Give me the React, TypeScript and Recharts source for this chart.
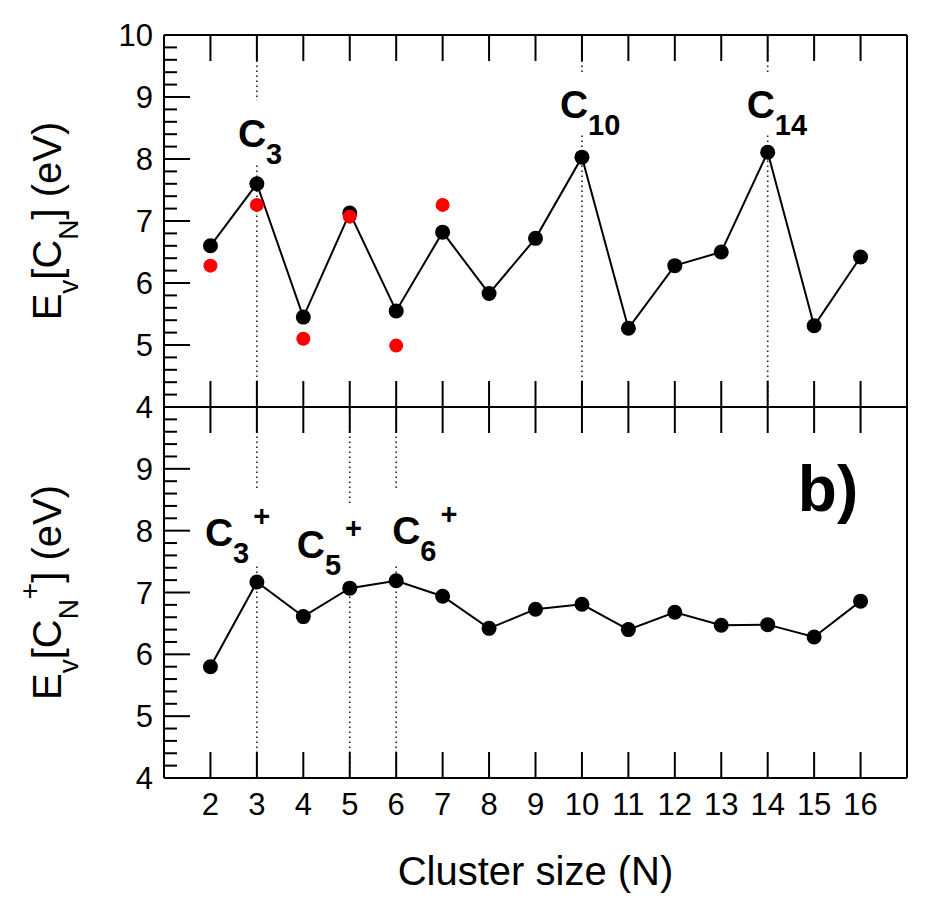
import React from "react";
import { LineChart, Line, XAxis, YAxis, ReferenceLine, ReferenceDot } from "recharts";

const FONT = '"Liberation Sans", Arial, Helvetica, sans-serif';

// cluster size N
const clusterSizes = [2, 3, 4, 5, 6, 7, 8, 9, 10, 11, 12, 13, 14, 15, 16];
// E_v of neutral C_N (black curve)
const neutralEv = [6.6, 7.6, 5.45, 7.13, 5.55, 6.82, 5.83, 6.72, 8.03, 5.27, 6.28, 6.5, 8.11, 5.31, 6.42];
// second set for the small neutral clusters (red points)
const neutralAltSizes = [2, 3, 4, 5, 6, 7];
const neutralAltEv = [6.28, 7.26, 5.1, 7.07, 4.99, 7.26];
// E_v of cations C_N+
const cationEv = [5.8, 7.17, 6.61, 7.07, 7.19, 6.94, 6.42, 6.73, 6.81, 6.4, 6.68, 6.47, 6.48, 6.28, 6.86];

const xTicks = [2, 3, 4, 5, 6, 7, 8, 9, 10, 11, 12, 13, 14, 15, 16];
const yMajorTicks = [4, 5, 6, 7, 8, 9, 10];
// minor ticks every 0.2 eV
const yTicks = yMajorTicks.flatMap((v, i) =>
  i === yMajorTicks.length - 1 ? [v] : [0, 1, 2, 3, 4].map((k) => Math.round((v + k * 0.2) * 10) / 10)
);

// highlighted sizes and their subscripts
const neutralPeaks = [3, 10, 14];
const neutralPeakSubs = ["3", "10", "14"];
const cationPeaks = [3, 5, 6];
const cationPeakSubs = ["3", "5", "6"];

// where each tag sits: baseline in eV, horizontal shift in px
const neutralTagPos = [
  { y: 8.2, dx: -19 },
  { y: 8.66, dx: -22 },
  { y: 8.66, dx: -21 },
];
const cationTagPos = [
  { y: 7.76, dx: -52 },
  { y: 7.55, dx: -53 },
  { y: 7.79, dx: -4 },
];

const neutralRows = clusterSizes.map((n, i) => {
  const j = neutralAltSizes.indexOf(n);
  return { n, ev: neutralEv[i], alt: j >= 0 ? neutralAltEv[j] : null };
});
const cationRows = clusterSizes.map((n, i) => ({ n, ev: cationEv[i] }));

const W = 947;
const H = 921;
const AXIS = { stroke: "#000", strokeWidth: 2 };

const isMajor = (v: number) => Math.abs(v - Math.round(v)) < 1e-6;

function leftTick(maxLabel: number) {
  return (props: any) => {
    const { x, y, payload } = props;
    const v = payload.value;
    const ax = x + 11;
    return (
      <g>
        <line x1={ax} y1={y} x2={ax + (isMajor(v) ? 26 : 13)} y2={y} stroke="#000" strokeWidth={2} />
        {isMajor(v) && v <= maxLabel && (
          <text x={x} y={y} dy="0.36em" textAnchor="end" fontSize={31} fontFamily={FONT} fill="#000">
            {v}
          </text>
        )}
      </g>
    );
  };
}

const rightTick = (props: any) => {
  const { x, y, payload } = props;
  return (
    <line x1={x} y1={y} x2={x - (isMajor(payload.value) ? 26 : 13)} y2={y} stroke="#000" strokeWidth={2} />
  );
};

function bottomTick(withLabels: boolean) {
  return (props: any) => {
    const { x, y, payload } = props;
    return (
      <g>
        <line x1={x} y1={y} x2={x} y2={y - 26} stroke="#000" strokeWidth={2} />
        {withLabels && (
          <text x={x} y={y + 37} textAnchor="middle" fontSize={31} fontFamily={FONT} fill="#000">
            {payload.value}
          </text>
        )}
      </g>
    );
  };
}

const topTick = (props: any) => {
  const { x, y } = props;
  return <line x1={x} y1={y} x2={x} y2={y + 26} stroke="#000" strokeWidth={2} />;
};

function YTitle(props: any) {
  const vb = props.viewBox || { x: 164, y: 0, width: 1, height: 0 };
  const x = vb.x + vb.width - 103;
  const cy = vb.y + vb.height / 2;
  return (
    <text
      x={x}
      y={cy}
      transform={`rotate(-90 ${x} ${cy})`}
      textAnchor="middle"
      fontSize={40}
      fontFamily={FONT}
      fill="#000"
    >
      E<tspan fontSize={28} dy={17}>v</tspan>
      <tspan dy={-17}>[C</tspan>
      <tspan fontSize={28} dy={17}>N</tspan>
      {props.plus ? (
        <>
          <tspan fontSize={28} dy={-39}>+</tspan>
          <tspan dy={22}>] (eV)</tspan>
        </>
      ) : (
        <tspan dy={-17}>] (eV)</tspan>
      )}
    </text>
  );
}

function XTitle(props: any) {
  const vb = props.viewBox || { x: 164, y: 778, width: 743 };
  return (
    <text x={vb.x + vb.width / 2} y={vb.y + 107} textAnchor="middle" fontSize={40} fontFamily={FONT} fill="#000">
      Cluster size (N)
    </text>
  );
}

function PeakTag(props: any) {
  const vb = props.viewBox || { x: 0, y: 0 };
  const { sub, plus, dx } = props;
  const x0 = vb.x + dx;
  const cy = vb.y;
  const w = 28 + sub.length * 16 + (plus ? 22 : 0) + 6;
  const top = cy - (plus ? 55 : 46);
  const bottom = cy + (plus ? 20 : 16);
  return (
    <g>
      <rect x={x0 - 3} y={top} width={w} height={bottom - top} fill="#fff" />
      <text x={x0} y={cy} fontFamily={FONT} fontWeight="bold" fontSize={39} fill="#000">
        C
        <tspan fontSize={29} dy={17}>{sub}</tspan>
        {plus && (
          <tspan fontSize={29} dx={4} dy={-37}>
            +
          </tspan>
        )}
      </text>
    </g>
  );
}

function PanelLabel(props: any) {
  const vb = props.viewBox || { x: 0, y: 0 };
  return (
    <text x={vb.x} y={vb.y} textAnchor="end" fontFamily={FONT} fontWeight="bold" fontSize={64} fill="#000">
      b)
    </text>
  );
}

// four axes framing one panel; ticks point inwards
function frame(showXLabels: boolean, maxYLabel: number, cation: boolean) {
  return [
    <XAxis
      key="xb"
      xAxisId="b"
      dataKey="n"
      type="number"
      domain={[1, 17]}
      ticks={xTicks}
      interval={0}
      height={1}
      tickSize={0}
      tickMargin={0}
      tickLine={false}
      axisLine={AXIS}
      tick={bottomTick(showXLabels)}
      label={showXLabels ? (p: any) => <XTitle {...p} /> : undefined}
    />,
    <XAxis
      key="xt"
      xAxisId="t"
      orientation="top"
      dataKey="n"
      type="number"
      domain={[1, 17]}
      ticks={xTicks}
      interval={0}
      height={1}
      tickSize={0}
      tickMargin={0}
      tickLine={false}
      axisLine={AXIS}
      tick={topTick}
    />,
    <YAxis
      key="yl"
      yAxisId="l"
      type="number"
      domain={[4, 10]}
      ticks={yTicks}
      interval={0}
      width={1}
      tickSize={0}
      tickMargin={11}
      tickLine={false}
      axisLine={AXIS}
      tick={leftTick(maxYLabel)}
      label={(p: any) => <YTitle {...p} plus={cation} />}
    />,
    <YAxis
      key="yr"
      yAxisId="r"
      orientation="right"
      type="number"
      domain={[4, 10]}
      ticks={yTicks}
      interval={0}
      width={1}
      tickSize={0}
      tickMargin={0}
      tickLine={false}
      axisLine={AXIS}
      tick={rightTick}
    />,
  ];
}

export default function App() {
  return (
    <div style={{ position: "absolute", left: 0, top: 0, width: W, height: H, background: "#fff" }}>
      <div style={{ position: "absolute", left: 0, top: 0 }}>
        <LineChart width={W} height={H} data={neutralRows} margin={{ top: 34, right: 39, bottom: 513, left: 163 }}>
          {frame(false, 10, false)}
          {neutralPeaks.map((n) => (
            <ReferenceLine
              key={`l${n}`}
              xAxisId="b"
              yAxisId="l"
              x={n}
              stroke="#222"
              strokeWidth={1.6}
              strokeDasharray="1.6 3.4"
            />
          ))}
          <Line
            xAxisId="b"
            yAxisId="l"
            dataKey="ev"
            type="linear"
            stroke="#000"
            strokeWidth={2}
            dot={{ r: 7.5, fill: "#000", stroke: "none" }}
            activeDot={false}
            isAnimationActive={false}
          />
          <Line
            xAxisId="b"
            yAxisId="l"
            dataKey="alt"
            type="linear"
            stroke="none"
            dot={{ r: 7, fill: "#f00", stroke: "none" }}
            activeDot={false}
            isAnimationActive={false}
          />
          {neutralPeaks.map((n, i) => (
            <ReferenceDot
              key={`t${n}`}
              xAxisId="b"
              yAxisId="l"
              x={n}
              y={neutralTagPos[i].y}
              r={0}
              fill="none"
              stroke="none"
              label={(p: any) => <PeakTag {...p} sub={neutralPeakSubs[i]} dx={neutralTagPos[i].dx} />}
            />
          ))}
        </LineChart>
      </div>
      <div style={{ position: "absolute", left: 0, top: 0 }}>
        <LineChart width={W} height={H} data={cationRows} margin={{ top: 406, right: 39, bottom: 142, left: 163 }}>
          {frame(true, 9, true)}
          {cationPeaks.map((n) => (
            <ReferenceLine
              key={`l${n}`}
              xAxisId="b"
              yAxisId="l"
              x={n}
              stroke="#222"
              strokeWidth={1.6}
              strokeDasharray="1.6 3.4"
            />
          ))}
          <Line
            xAxisId="b"
            yAxisId="l"
            dataKey="ev"
            type="linear"
            stroke="#000"
            strokeWidth={2}
            dot={{ r: 7.5, fill: "#000", stroke: "none" }}
            activeDot={false}
            isAnimationActive={false}
          />
          {cationPeaks.map((n, i) => (
            <ReferenceDot
              key={`t${n}`}
              xAxisId="b"
              yAxisId="l"
              x={n}
              y={cationTagPos[i].y}
              r={0}
              fill="none"
              stroke="none"
              label={(p: any) => <PeakTag {...p} sub={cationPeakSubs[i]} plus dx={cationTagPos[i].dx} />}
            />
          ))}
          <ReferenceDot
            xAxisId="b"
            yAxisId="l"
            x={15.95}
            y={8.32}
            r={0}
            fill="none"
            stroke="none"
            label={(p: any) => <PanelLabel {...p} />}
          />
        </LineChart>
      </div>
    </div>
  );
}
